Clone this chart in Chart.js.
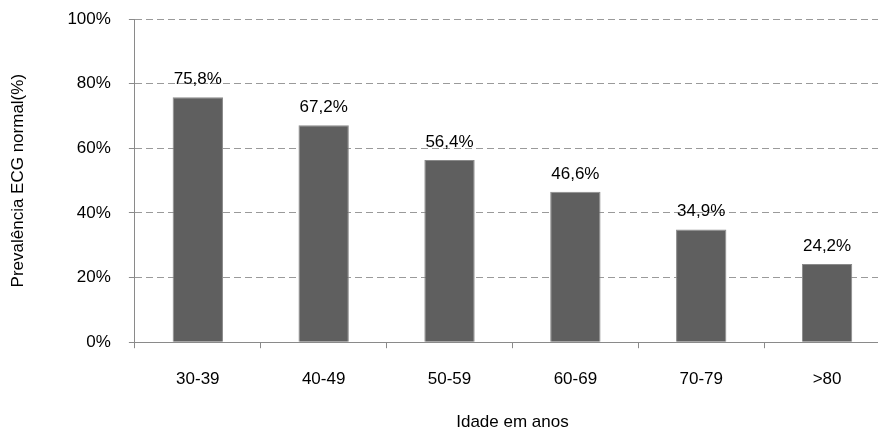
<!DOCTYPE html>
<html lang="en">
<head>
<meta charset="UTF-8">
<script src="https://cdn.jsdelivr.net/npm/chart.js@4.4.1/dist/chart.umd.min.js"></script>
<title>Prevalência ECG normal</title>
<style>
  html, body { margin: 0; padding: 0; background: #fff; overflow: hidden; }
  #wrap { width: 892px; height: 442px; margin-top: -9px; }
</style>
</head>
<body>
<div id="wrap"><canvas id="myChart"></canvas></div>
<script>
  // dados
  const faixas = ['30-39', '40-49', '50-59', '60-69', '70-79', '>80'];
  const prevalencia = [75.8, 67.2, 56.4, 46.6, 34.9, 24.2];
  const yTicks = [0, 20, 40, 60, 80, 100];

  const fmt = v => v.toFixed(1).replace('.', ',') + '%';

  const barLabels = {
    id: 'barLabels',
    afterDatasetsDraw(chart) {
      const {ctx} = chart;
      const meta = chart.getDatasetMeta(0);
      ctx.save();
      ctx.font = '17px "Liberation Sans", Arial, sans-serif';
      ctx.fillStyle = '#000';
      ctx.textAlign = 'center';
      ctx.textBaseline = 'alphabetic';
      meta.data.forEach((bar, i) => {
        ctx.fillText(fmt(prevalencia[i]), bar.x, bar.y - 13);
      });
      ctx.restore();
    }
  };

  Chart.defaults.font.family = '"Liberation Sans", Arial, sans-serif';
  Chart.defaults.color = '#000';

  new Chart(document.getElementById('myChart'), {
    type: 'bar',
    data: {
      labels: faixas,
      datasets: [{
        data: prevalencia,
        backgroundColor: '#5f5f5f',
        borderColor: '#8a8a8a',
        borderWidth: 1,
        barPercentage: 0.4,
        categoryPercentage: 1
      }]
    },
    plugins: [barLabels],
    options: {
      responsive: true,
      maintainAspectRatio: false,
      animation: false,
      layout: {padding: {top: 0, left: 0, right: 2, bottom: 0}},
      plugins: {legend: {display: false}, tooltip: {enabled: false}},
      scales: {
        x: {
          grid: {display: true, offset: true, drawOnChartArea: false, color: '#8a8a8a', tickLength: 6},
          border: {color: '#8a8a8a', width: 1},
          ticks: {font: {size: 17}, padding: 21, color: '#000'},
          title: {display: true, text: 'Idade em anos', font: {size: 17}, padding: {top: 2, bottom: 0}, color: '#000'}
        },
        y: {
          min: 0,
          max: 100,
          afterBuildTicks: axis => { axis.ticks = yTicks.map(v => ({value: v})); },
          grid: {color: '#9a9a9a', tickBorderDash: [], tickColor: '#8a8a8a', tickLength: 6},
          border: {color: '#8a8a8a', width: 1, dash: [7, 4]},
          ticks: {font: {size: 17}, padding: 18, color: '#000', callback: v => v + '%'},
          title: {display: true, text: 'Prevalência ECG normal(%)', font: {size: 17}, padding: {top: 8, bottom: 21}, color: '#000'}
        }
      }
    }
  });
</script>
</body>
</html>
